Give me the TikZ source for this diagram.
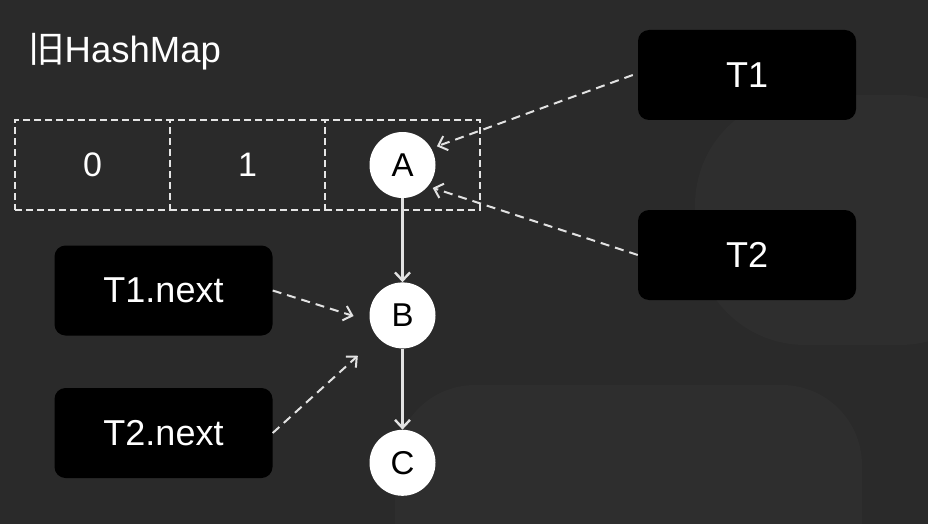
\documentclass[tikz,border=0pt]{standalone}
\usepackage{fontspec}
\setmainfont{Liberation Sans}
\newfontfamily\cjk{Noto Sans CJK SC}
\usetikzlibrary{arrows.meta,positioning}

\definecolor{bgcol}{HTML}{2A2A2A}
\definecolor{blobcol}{HTML}{2E2E2E}
\definecolor{linecol}{HTML}{E2E2E2}

\begin{document}
\begin{tikzpicture}[
  x=1pt, y=-1pt,
  >={Straight Barb[length=8pt,width=15pt]},
  thrbox/.style={fill=black, rounded corners=11pt, minimum width=218pt, minimum height=90pt, text=white, font=\fontsize{36}{42}\selectfont},
  slot/.style={draw=linecol!90, line width=1.4pt, dash pattern=on 7pt off 4pt, minimum width=155pt, minimum height=90pt, text=white, font=\fontsize{34}{40}\selectfont},
  entry/.style={circle, fill=white, minimum size=66pt, inner sep=0pt, text=black, font=\fontsize{33}{38}\selectfont},
  link/.style={->, draw=linecol, line width=2.4pt},
  ptr/.style={->, draw=linecol, line width=2pt, dash pattern=on 9pt off 6pt},
]

% --- background and faint decoration ---
\fill[bgcol] (0,0) rectangle (928,524);
\begin{scope}
  \clip (0,0) rectangle (928,524);
  \fill[blobcol, rounded corners=110pt] (695,95) rectangle (1010,345);
  \fill[blobcol, rounded corners=80pt] (395,385) rectangle (862,640);
\end{scope}
\useasboundingbox (0,0) rectangle (928,524);

% title
\node[anchor=base west, text=white, inner sep=0pt, font=\fontsize{36.5}{42}\selectfont] (title) at (28,63) {{\cjk 旧}HashMap};

% --- bucket array ---
\foreach \i/\t in {0/0,1/1,2/{}} {
  \node[slot] (slot\i) at (92.5+155*\i,165) {\t};
}

% --- linked entries ---
\node[entry] (A) at (slot2.center) {A};
\node[entry, below=84pt of A] (B) {B};
\node[entry, below=81pt of B] (C) {C};
\draw[link] (A) -- (B);
\draw[link] (B) -- (C);

% --- thread pointers ---
\node[thrbox] (t1) at (747,75) {T1};
\node[thrbox] (t2) at (747,255) {T2};
\node[thrbox] (t1n) at (163.5,290.5) {T1.next};
\node[thrbox] (t2n) at (163.5,433) {T2.next};

\draw[ptr, shorten >=6pt] ([xshift=-5pt]t1.west) -- (A.30);
\draw[ptr, shorten >=5pt] (t2.west) -- (A.-40);
\draw[ptr, shorten >=17pt] (t1n.east) -- (B.190);
\draw[ptr, shorten >=27pt] (t2n.east) -- (B.222);

\end{tikzpicture}
\end{document}
